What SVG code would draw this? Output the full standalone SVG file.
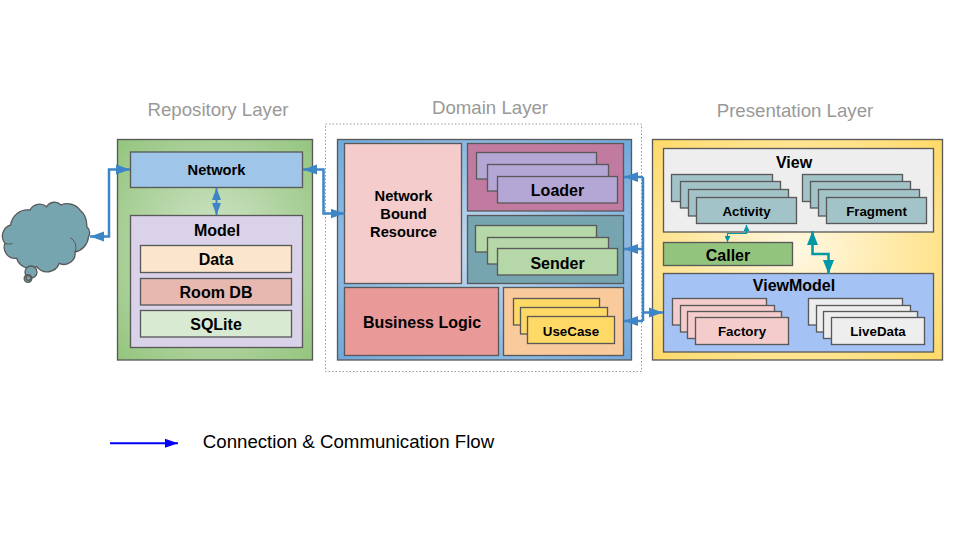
<svg xmlns="http://www.w3.org/2000/svg" width="960" height="540" viewBox="0 0 960 540">
<style>
text{font-family:"Liberation Sans",Arial,sans-serif;text-anchor:middle;fill:#000}
.b{font-weight:bold}.s13{font-size:13.33px}.s15{font-size:14.67px}.s16{font-size:16px}
.title{font-size:18.67px;fill:#999}
rect,.cl{stroke:#595959;stroke-width:1.33}
.conn{fill:none;stroke:#3d85c6;stroke-width:2.5}
.teal{fill:none;stroke:#0097a7;stroke-width:2.5}
</style>
<defs>
<radialGradient id="gGreen" r="0.71"><stop offset="0" stop-color="#d3e6cb"/><stop offset="1" stop-color="#93c47d"/></radialGradient>
<radialGradient id="gBlue" r="0.71"><stop offset="0" stop-color="#c5dbf0"/><stop offset="1" stop-color="#6fa8dc"/></radialGradient>
<radialGradient id="gYellow" r="0.71"><stop offset="0" stop-color="#fff8e3"/><stop offset="1" stop-color="#ffd966"/></radialGradient>
<marker id="aB" markerUnits="userSpaceOnUse" markerWidth="14" markerHeight="11" refX="14" refY="5.500" orient="auto-start-reverse"><path d="M0,0.500L14,5.500L0,10.500z" fill="#3d85c6"/></marker>
<marker id="aM" markerUnits="userSpaceOnUse" markerWidth="12" markerHeight="10" refX="12" refY="5" orient="auto-start-reverse"><path d="M0,0.500L12,5L0,9.500z" fill="#3d85c6"/></marker>
<marker id="aT" markerUnits="userSpaceOnUse" markerWidth="14" markerHeight="12" refX="14" refY="6" orient="auto-start-reverse"><path d="M0,0.500L14,6L0,11.500z" fill="#0097a7"/></marker>
<marker id="aS" markerUnits="userSpaceOnUse" markerWidth="6" markerHeight="6" refX="6" refY="3" orient="auto-start-reverse"><path d="M0,0L6,3L0,6z" fill="#0097a7"/></marker>
<marker id="aL" markerUnits="userSpaceOnUse" markerWidth="13" markerHeight="10" refX="13" refY="5" orient="auto"><path d="M0,0.500L13,5L0,9.500z" fill="#0000ff"/></marker>
</defs>
<text class="title" x="218" y="116">Repository Layer</text>
<text class="title" x="490" y="114">Domain Layer</text>
<text class="title" x="795" y="117">Presentation Layer</text>

<g id="cloud">
<path class="cl" fill="#76a5af" d="M10.700,225A17,17 0 0 1 30,210A11,11 0 0 1 46.700,206.700A9,9 0 0 1 61,205A16,16 0 0 1 80,210A20,20 0 0 1 86.700,226.500A9,9 0 0 1 88.500,237A17,17 0 0 1 75,252A11,11 0 0 1 59.300,263.300A13,13 0 0 1 36.700,266.700A14,14 0 0 1 16.700,258.300A11,11 0 0 1 5,243.300A11.500,11.500 0 0 1 10.700,225z"/>
<path fill="none" stroke="#595959" stroke-width="1" d="M70,237.500A11,11 0 0 1 75,252M5,243.500A14,14 0 0 0 12.500,243.500"/>
<circle class="cl" fill="#76a5af" cx="31" cy="272" r="6"/>
<circle class="cl" fill="#76a5af" cx="28" cy="278.500" r="3.800"/>
<circle class="cl" fill="#76a5af" cx="28.500" cy="278" r="2.400"/>
</g>

<g id="repository">
<rect x="117.500" y="139.500" width="195" height="220.500" fill="url(#gGreen)"/>
</g>
<g id="network"><rect x="130.500" y="152" width="172" height="35.500" fill="#9fc5e8"/><text class="b s15" x="216.500" y="175">Network</text></g>
<g id="model"><rect x="130.500" y="215.500" width="172" height="132" fill="#d9d2e9"/><text class="b s16" x="217" y="236">Model</text></g>
<g id="data"><rect x="140.500" y="245.500" width="151" height="27" fill="#fce5cd"/><text class="b s16" x="216" y="265">Data</text></g>
<g id="roomdb"><rect x="140.500" y="278.500" width="151" height="26.500" fill="#e6b8af"/><text class="b s16" x="216" y="298">Room DB</text></g>
<g id="sqlite"><rect x="140.500" y="310.500" width="151" height="26.500" fill="#d9ead3"/><text class="b s16" x="216" y="330">SQLite</text></g>

<g id="domain-bound"><rect x="325.500" y="124" width="316" height="247.500" fill="none" style="stroke:#999;stroke-width:1;stroke-dasharray:1.500 2"/></g>
<g id="domain"><rect x="337.500" y="139.500" width="294" height="220.500" fill="url(#gBlue)"/></g>
<g id="nbr"><rect x="344.500" y="143.500" width="117" height="140" fill="#f4cccc"/>
<text class="b s15" x="403.500" y="201">Network</text><text class="b s15" x="403.500" y="219">Bound</text><text class="b s15" x="403.500" y="237">Resource</text></g>
<g id="loader"><rect x="467.500" y="143.500" width="156" height="67.500" fill="#c27ba0"/>
<g fill="#b4a7d6"><rect x="476.500" y="152.500" width="120" height="26.500"/><rect x="487.500" y="164.500" width="121" height="26.500"/><rect x="497.500" y="176.500" width="120" height="26.500"/></g>
<text class="b s16" x="557.500" y="196">Loader</text></g>
<g id="sender"><rect x="467.500" y="215.500" width="156" height="68" fill="#76a5af"/>
<g fill="#b6d7a8"><rect x="475.500" y="225.500" width="121" height="26.500"/><rect x="487.500" y="237.500" width="121" height="26.500"/><rect x="497.500" y="248.500" width="120" height="26.500"/></g>
<text class="b s16" x="557.500" y="268.500">Sender</text></g>
<g id="business"><rect x="344.500" y="287.500" width="154" height="68" fill="#ea9999"/><text class="b s16" x="422" y="328">Business Logic</text></g>
<g id="usecase"><rect x="503.500" y="287.500" width="120" height="68" fill="#f9cb9c"/>
<g fill="#ffd966"><rect x="513.500" y="298.500" width="86" height="26.500"/><rect x="520.500" y="307.500" width="87" height="26.500"/><rect x="527.500" y="316.500" width="87" height="27"/></g>
<text class="b s13" x="571" y="335.500">UseCase</text></g>

<g id="presentation"><rect x="652.500" y="139.500" width="290" height="220.500" fill="url(#gYellow)"/></g>
<g id="view"><rect x="663.500" y="148.500" width="270" height="83.500" fill="#eeeeee"/><text class="b s16" x="794" y="167.500">View</text></g>
<g id="activity"><g fill="#a2c4c9"><rect x="671.500" y="174.500" width="101" height="27"/><rect x="680.500" y="181.500" width="100" height="26.500"/><rect x="688.500" y="189.500" width="100" height="26.500"/><rect x="696.500" y="197.500" width="100" height="26"/></g>
<text class="b s13" x="746.500" y="215.500">Activity</text></g>
<g id="fragment"><g fill="#a2c4c9"><rect x="802.500" y="174.500" width="100" height="27"/><rect x="810.500" y="181.500" width="100" height="26.500"/><rect x="818.500" y="189.500" width="101" height="26.500"/><rect x="826.500" y="197.500" width="100" height="26"/></g>
<text class="b s13" x="876.500" y="215.500">Fragment</text></g>
<g id="caller"><rect x="663.500" y="242.500" width="129" height="23" fill="#93c47d"/><text class="b s16" x="728" y="260.500">Caller</text></g>
<g id="viewmodel"><rect x="663.500" y="273.500" width="270" height="78.500" fill="#a4c2f4"/><text class="b s16" x="794" y="291">ViewModel</text></g>
<g id="factory"><g fill="#f4cccc"><rect x="672.500" y="298.500" width="94" height="26.500"/><rect x="680.500" y="305.500" width="94" height="26.500"/><rect x="687.500" y="311.500" width="94" height="27"/><rect x="695.500" y="317.500" width="93" height="27"/></g>
<text class="b s13" x="742" y="336">Factory</text></g>
<g id="livedata"><g fill="#eeeeee"><rect x="808.500" y="298.500" width="94" height="26.500"/><rect x="816.500" y="305.500" width="94" height="26.500"/><rect x="823.500" y="311.500" width="94" height="27"/><rect x="831.500" y="317.500" width="93" height="27"/></g>
<text class="b s13" x="878" y="336">LiveData</text></g>

<g id="connectors">
<path class="conn" d="M90,236.500H109V169.500H130" marker-start="url(#aB)" marker-end="url(#aB)"/>
<path class="conn" style="stroke-width:2" d="M216.500,188V215" marker-start="url(#aM)" marker-end="url(#aM)"/>
<path class="conn" d="M303,169.500H323.500V213.500H344.500" marker-start="url(#aB)" marker-end="url(#aB)"/>
<path class="conn" d="M643,177H624" marker-end="url(#aB)"/>
<path class="conn" d="M643,249H624" marker-end="url(#aB)"/>
<path class="conn" d="M643,321H624" marker-end="url(#aB)"/>
<path class="conn" d="M643,177V321" />
<path class="conn" d="M643,312.500H663" marker-end="url(#aB)"/>
<path class="teal" style="stroke-width:1.200" d="M746.500,225V233.500H727.500V242" marker-start="url(#aS)" marker-end="url(#aS)"/>
<path class="teal" d="M812.500,231V254H828.500V274" marker-start="url(#aT)" marker-end="url(#aT)"/>
</g>
<g id="legend">
<path d="M110,443.300H178" fill="none" stroke="#0000ff" stroke-width="2" marker-end="url(#aL)"/>
<text x="348.500" y="447.500" style="font-size:18.67px">Connection &amp; Communication Flow</text>
</g>
</svg>
